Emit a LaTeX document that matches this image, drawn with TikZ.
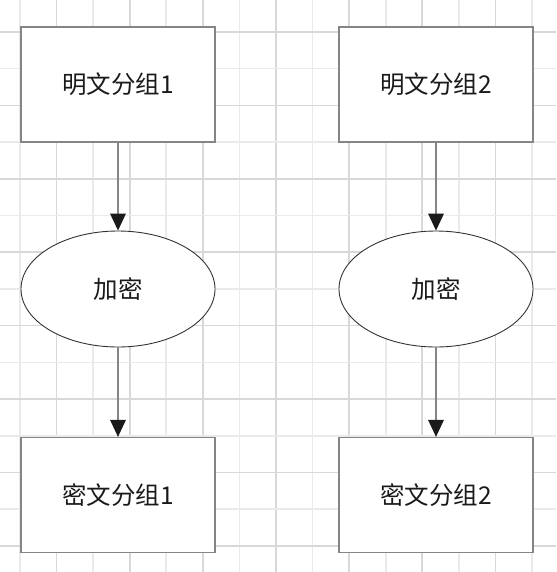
\documentclass[tikz,border=0pt]{standalone}
\usepackage{fontspec}
\newfontfamily\cjk{Noto Sans CJK SC}
\usetikzlibrary{shapes.geometric,arrows.meta}
\definecolor{gridlight}{HTML}{EAEAEA}
\definecolor{griddark}{HTML}{D8D8D8}
\definecolor{boxgray}{HTML}{858585}
\definecolor{inkdark}{HTML}{1A1A1A}
\begin{document}
\begin{tikzpicture}[x=1pt, y=-1pt]

        % Shared looks of the boxes, ellipses and arrows
        \tikzset{
            block/.style={draw=boxgray, line width=1.3pt, fill=white, inner sep=0pt,
                minimum width=194pt, minimum height=115pt, text=inkdark,
                font=\cjk\fontsize{24.5}{28}\selectfont},
            cipherstep/.style={ellipse, draw=black!80, line width=0.9pt, fill=white, inner sep=0pt,
                minimum width=194pt, minimum height=116pt, text=inkdark,
                font=\cjk\fontsize{24.5}{28}\selectfont},
            flow/.style={draw=boxgray, line width=1.3pt,
                -{Triangle[length=17pt, width=16pt, line width=0pt, color=inkdark, fill=inkdark]}},
        }

        % --- Canvas and background grid ---
        \fill[white] (0,0) rectangle (556,572);
        \useasboundingbox (0,0) rectangle (556,572);
        \foreach \k in {0,...,7}
            \draw[gridlight, line width=1.6pt] ({20+73.14*\k},0) -- ++(0,572);
        \foreach \k in {0,...,6}
            \draw[griddark, line width=1.6pt] ({56.57+73.14*\k},0) -- ++(0,572);
        \foreach \k in {0,...,6}
            \draw[gridlight, line width=1.6pt] (0,{68.7+73.4*\k}) -- ++(556,0);
        \foreach \k in {0,...,7}
            \draw[griddark, line width=1.6pt] (0,{32+73.4*\k}) -- ++(556,0);

        % --- Left column: block 1 ---
        \node[block] (plain1) at (118, 84.5) {明文分组1};
        \node[cipherstep] (enc1) at (118, 289) {加密};
        \node[block] (cipher1) at (118, 495) {密文分组1};

        % --- Right column: block 2 ---
        \node[block] (plain2) at (436, 84.5) {明文分组2};
        \node[cipherstep] (enc2) at (436, 289) {加密};
        \node[block] (cipher2) at (436, 495) {密文分组2};

        % --- Arrows ---
        \draw[flow] (plain1) -- (enc1);
        \draw[flow] (enc1) -- (cipher1);
        \draw[flow] (plain2) -- (enc2);
        \draw[flow] (enc2) -- (cipher2);

\end{tikzpicture}
\end{document}
